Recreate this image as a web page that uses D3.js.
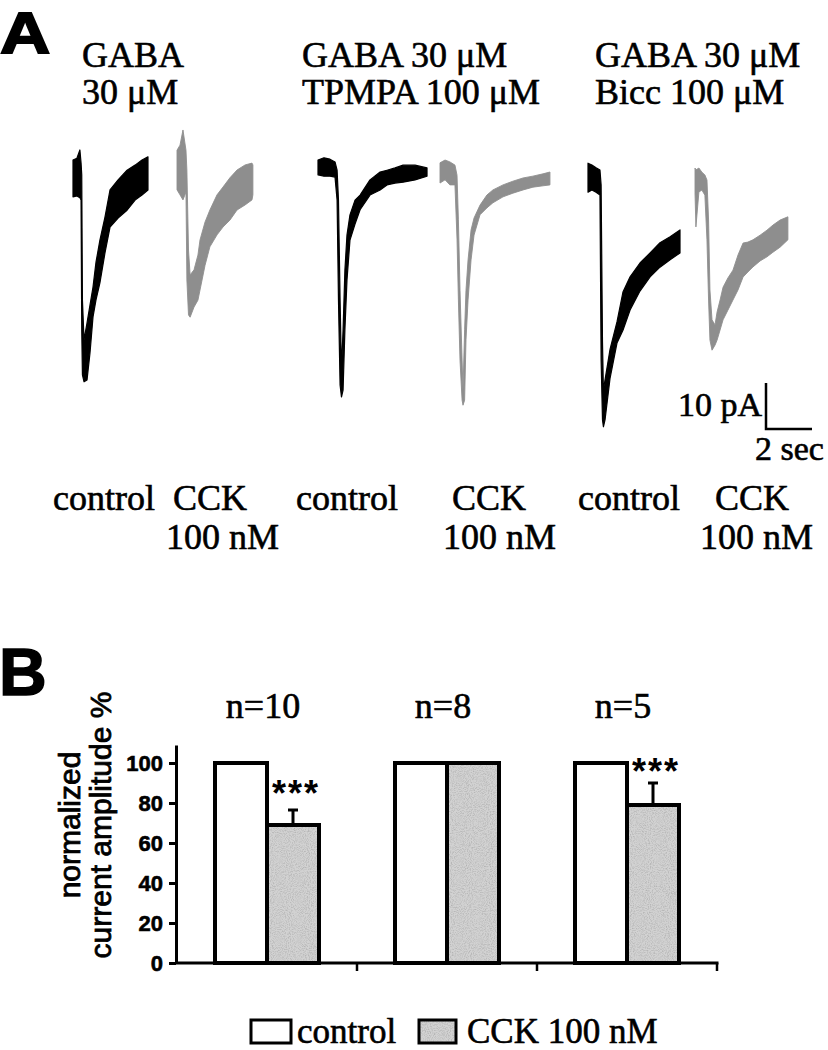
<!DOCTYPE html>
<html><head><meta charset="utf-8">
<script src="https://cdn.jsdelivr.net/npm/d3@7"></script>
<style>html,body{margin:0;padding:0;background:#fff;}svg{display:block;}</style>
</head><body>
<script>
// ---------- DATA ----------
// Panel A traces: [time (s), upper envelope (pA), lower envelope (pA)]
const traceGabaControl = [[0,3.9,-4.1],[0.17,4.3,-3.9],[0.30,6.1,-4.3],[0.35,3.3,-4.8],[0.38,0.7,-33.0],[0.41,-26.5,-42.8],[0.48,-35.2,-44.3],[0.61,-31.5,-43.9],[0.74,-27.6,-38.0],[0.87,-23.7,-30.2],[1.00,-18.3,-26.5],[1.17,-13.5,-22.8],[1.39,-8.5,-16.3],[1.61,-2.6,-10.7],[1.96,-0.4,-8.7],[2.35,1.7,-7.0],[2.70,2.8,-4.8],[3.00,3.9,-3.7],[3.26,4.6,-2.6]];
const traceGabaCCK = [[0,4.3,-4.3],[0.13,5.4,-5.4],[0.26,8.7,-6.5],[0.39,4.3,-4.8],[0.43,0,-23.9],[0.50,-17.4,-31.5],[0.57,-22.8,-32.0],[0.74,-21.7,-29.8],[0.91,-18.5,-28.3],[1.00,-15.2,-26.1],[1.22,-11.3,-20.7],[1.43,-8.7,-16.7],[1.74,-5.4,-14.1],[2.00,-3.7,-12.4],[2.30,-1.7,-10.9],[2.61,0,-8.7],[2.96,1.1,-7.6],[3.26,1.5,-6.5],[3.30,1.1,-5.4]];
const traceTpmpaControl = [[0,1.5,-1.7],[0.26,2.0,-2.0],[0.52,1.7,-2.0],[0.74,1.1,-2.2],[0.83,-0.7,-7.2],[0.89,-7.2,-28.9],[0.96,-28.9,-47.4],[1.02,-44.1,-50.0],[1.09,-35.4,-48.5],[1.17,-22.4,-35.4],[1.26,-14.8,-24.6],[1.39,-10.4,-15.9],[1.61,-7.2,-12.4],[1.83,-6.1,-9.3],[2.26,-2.8,-6.1],[2.70,-1.1,-5.0],[3.00,-0.7,-3.9],[3.35,-0.2,-3.5],[3.70,0.4,-3.3],[4.22,0.4,-2.8],[4.74,-0.2,-2.0]];
const traceTpmpaCCK = [[0,2.0,-2.4],[0.22,2.6,-1.7],[0.43,2.2,-2.8],[0.65,1.5,-2.8],[0.74,-0.7,-14.6],[0.80,-10.4,-27.8],[0.87,-25.7,-40.9],[0.96,-40.9,-49.6],[1.00,-47.4,-50.7],[1.07,-34.3,-49.6],[1.13,-25.7,-36.5],[1.22,-19.1,-27.8],[1.35,-12.6,-19.1],[1.48,-10.0,-13.7],[1.74,-7.2,-9.3],[2.04,-5.0,-7.8],[2.30,-3.9,-6.7],[2.74,-2.8,-5.4],[3.17,-2.0,-4.6],[3.61,-1.3,-3.9],[4.04,-0.9,-3.3],[4.48,-0.4,-3.0],[4.78,0,-2.8]];
const traceBiccControl = [[0,3.0,-3.3],[0.17,2.6,-2.8],[0.35,2.0,-3.3],[0.52,1.5,-3.9],[0.57,-1.7,-39.8],[0.63,-35.9,-52.8],[0.67,-46.3,-54.3],[0.74,-44.1,-52.8],[0.96,-37.4,-43.7],[1.26,-31.5,-36.1],[1.52,-25.0,-33.3],[1.83,-21.7,-28.9],[2.26,-18.7,-24.8],[2.70,-16.5,-21.7],[3.13,-14.3,-19.6],[3.57,-13.0,-18.0],[4.00,-11.5,-16.5]];
const traceBiccCCK = [[0,2.6,-2.8],[0.04,2.2,-10.2],[0.17,2.6,-2.6],[0.30,1.7,-2.2],[0.43,1.1,-3.3],[0.52,0,-13.0],[0.59,-8.7,-26.1],[0.65,-23.9,-34.8],[0.74,-30.4,-37.0],[0.87,-31.5,-35.9],[0.96,-28.7,-34.8],[1.09,-26.1,-32.6],[1.22,-23.3,-30.4],[1.43,-21.3,-28.3],[1.65,-19.6,-26.1],[1.87,-16.3,-23.9],[2.09,-13.7,-21.1],[2.30,-13.5,-20.0],[2.52,-13.0,-18.9],[2.83,-12.0,-17.6],[3.13,-10.9,-16.7],[3.39,-9.8,-15.7],[3.70,-8.7,-14.6],[4.04,-8.0,-13.0]];
const scaleBarPA = 10, scaleBarSec = 2;

const groupTitles = [["GABA","30 μM"],["GABA 30 μM","TPMPA 100 μM"],["GABA 30 μM","Bicc 100 μM"]];
const conditionLabels = ["control","CCK","100 nM"];

// Panel B
const categories = ["GABA 30 μM","GABA + TPMPA","GABA + Bicc"];
const nLabels = ["n=10","n=8","n=5"];
const controlValues = [100,100,100];
const cckValues = [69,100,79];
const cckErrors = [7.5,0,11];
const significance = ["***","","***"];
const yTicks = [0,20,40,60,80,100];
const legendLabels = ["control","CCK 100 nM"];

// ---------- DRAW ----------
const W=828,H=1050;
const svg=d3.select("body").append("svg").attr("width",W).attr("height",H);
svg.append("rect").attr("width",W).attr("height",H).attr("fill","#fff");
const serif="'Liberation Serif','Times New Roman',serif";
const sans="'Liberation Sans',Arial,sans-serif";
const GRAY="#8e8e8e", CCKFILL="#d2d2d2";

const defs=svg.append("defs");
const f=defs.append("filter").attr("id","speckle").attr("x",0).attr("y",0).attr("width",1).attr("height",1);
f.append("feTurbulence").attr("type","fractalNoise").attr("baseFrequency",0.95).attr("numOctaves",2).attr("seed",7).attr("result","n");
f.append("feColorMatrix").attr("in","n").attr("type","matrix")
  .attr("values","0 0 0 0 0.45  0 0 0 0 0.45  0 0 0 0 0.45  0 0 0 2.2 -0.9").attr("result","dots");
f.append("feComposite").attr("in","dots").attr("in2","SourceGraphic").attr("operator","in").attr("result","d2");
const fm=f.append("feMerge"); fm.append("feMergeNode").attr("in","SourceGraphic"); fm.append("feMergeNode").attr("in","d2");

function serifText(x,y,size,t,anchor){
  return svg.append("text").attr("x",x).attr("y",y).attr("text-anchor",anchor||"start").attr("font-family",serif)
    .attr("font-size",size).attr("stroke","#000").attr("stroke-width",0.6).text(t);
}

// Panel letters
svg.append("text").attr("transform","translate(0,53) scale(1.2,1)").attr("font-family",sans).attr("font-weight","bold")
  .attr("font-size",58).attr("stroke","#000").attr("stroke-width",1.8).text("A");
svg.append("text").attr("x",-1).attr("y",695).attr("font-family",sans).attr("font-weight","bold")
  .attr("font-size",66).attr("stroke","#000").attr("stroke-width",1.5).text("B");

// Titles
const titleX=[82,302,595];
groupTitles.forEach((lines,i)=>{
  lines.forEach((t,j)=>{ serifText(titleX[i],67+j*37,36,t); });
});

// Traces
const pxPerSec=23, pxPerPA=4.6;
const traces=[
  {d:traceGabaControl,x0:73,y0:178,c:"#000"},
  {d:traceGabaCCK,x0:177,y0:170,c:GRAY},
  {d:traceTpmpaControl,x0:318,y0:167,c:"#000"},
  {d:traceTpmpaCCK,x0:440,y0:172,c:GRAY},
  {d:traceBiccControl,x0:588,y0:177,c:"#000"},
  {d:traceBiccCCK,x0:695,y0:180,c:GRAY}
];
traces.forEach(tr=>{
  const x=d3.scaleLinear().domain([0,1]).range([tr.x0,tr.x0+pxPerSec]);
  const y=d3.scaleLinear().domain([0,1]).range([tr.y0,tr.y0-pxPerPA]);
  const area=d3.area().x(d=>x(d[0])).y0(d=>y(d[2])).y1(d=>y(d[1]));
  svg.append("path").datum(tr.d).attr("d",area).attr("fill",tr.c).attr("stroke",tr.c)
    .attr("stroke-width",tr.c==="#000"?1.2:0.9).attr("stroke-linejoin","round");
});

// Scale bar
{
  const sx=766, sy=429;
  const x=d3.scaleLinear().domain([0,1]).range([sx,sx+pxPerSec]);
  const y=d3.scaleLinear().domain([0,1]).range([sy,sy-pxPerPA]);
  svg.append("path").attr("d",`M${x(0)},${y(scaleBarPA)}V${y(0)}H${x(scaleBarSec)}`)
    .attr("fill","none").attr("stroke","#000").attr("stroke-width",2.5);
  serifText(762,416,34,scaleBarPA+" pA","end");
  serifText(755,460,34,scaleBarSec+" sec");
}

// Condition labels
const condPos=[[53,173,166],[296,452,443],[578,715,700]];
condPos.forEach(p=>{
  serifText(p[0],510,36,conditionLabels[0]);
  serifText(p[1],510,36,conditionLabels[1]);
  serifText(p[2],549,36,conditionLabels[2]);
});

// Panel B chart
const xB=d3.scaleBand().domain(categories).range([177,717]).padding(0);
const yB=d3.scaleLinear().domain([0,109]).range([963,745]);
const barW=52;

const yAxis=svg.append("g").attr("transform","translate(176,0)")
  .call(d3.axisLeft(yB).tickValues(yTicks).tickSize(7).tickSizeOuter(0).tickPadding(6));
yAxis.select(".domain").attr("stroke","#000").attr("stroke-width",3);
yAxis.selectAll(".tick line").attr("stroke","#000").attr("stroke-width",3);
yAxis.selectAll(".tick text").attr("font-family",sans).attr("font-weight","bold").attr("font-size",22)
  .attr("fill","#000").attr("stroke","#000").attr("stroke-width",0.6).attr("dy","0.36em");

// x axis
const xAxisG=svg.append("g");
xAxisG.append("line").attr("x1",175).attr("x2",xB.range()[1]+1.5).attr("y1",yB(0)).attr("y2",yB(0)).attr("stroke","#000").attr("stroke-width",3);
categories.forEach(c=>{
  const xe=xB(c)+xB.bandwidth();
  xAxisG.append("line").attr("x1",xe).attr("x2",xe).attr("y1",yB(0)).attr("y2",yB(0)+8).attr("stroke","#000").attr("stroke-width",2.5);
});

// bars
categories.forEach((c,i)=>{
  const cx=xB(c)+xB.bandwidth()/2;
  svg.append("rect").attr("x",cx-barW).attr("y",yB(controlValues[i])).attr("width",barW).attr("height",yB(0)-yB(controlValues[i]))
    .attr("fill","#fff").attr("stroke","#000").attr("stroke-width",4);
  if(cckErrors[i]>0){
    svg.append("line").attr("x1",cx+barW/2).attr("x2",cx+barW/2).attr("y1",yB(cckValues[i])).attr("y2",yB(cckValues[i]+cckErrors[i]))
      .attr("stroke","#000").attr("stroke-width",3);
    svg.append("line").attr("x1",cx+barW/2-5).attr("x2",cx+barW/2+5).attr("y1",yB(cckValues[i]+cckErrors[i])).attr("y2",yB(cckValues[i]+cckErrors[i]))
      .attr("stroke","#000").attr("stroke-width",3);
  }
  svg.append("rect").attr("x",cx).attr("y",yB(cckValues[i])).attr("width",barW).attr("height",yB(0)-yB(cckValues[i]))
    .attr("fill",CCKFILL).attr("filter","url(#speckle)");
  svg.append("rect").attr("x",cx).attr("y",yB(cckValues[i])).attr("width",barW).attr("height",yB(0)-yB(cckValues[i]))
    .attr("fill","none").attr("stroke","#000").attr("stroke-width",4);
  serifText(cx-4,718,36,nLabels[i],"middle");
  if(significance[i]){
    svg.append("text").attr("x",cx+barW/2+3).attr("y",i===0?806:784).attr("text-anchor","middle")
      .attr("font-family",sans).attr("font-weight","bold").attr("font-size",36).attr("letter-spacing",2).text(significance[i]);
  }
});

// y label
const yl=svg.append("g").attr("transform","translate(0,825)");
yl.append("text").attr("transform","translate(80,0) rotate(-90)").attr("text-anchor","middle").attr("font-family",sans)
  .attr("font-size",30).attr("stroke","#000").attr("stroke-width",0.8).text("normalized");
yl.append("text").attr("transform","translate(111,0) rotate(-90)").attr("text-anchor","middle").attr("font-family",sans)
  .attr("font-size",30).attr("stroke","#000").attr("stroke-width",0.8).text("current amplitude %");

// legend
svg.append("rect").attr("x",251).attr("y",1020).attr("width",40).attr("height",23).attr("fill","#fff").attr("stroke","#000").attr("stroke-width",3);
serifText(297,1043,35,legendLabels[0]);
svg.append("rect").attr("x",419).attr("y",1020).attr("width",37).attr("height",23).attr("fill",CCKFILL).attr("filter","url(#speckle)");
svg.append("rect").attr("x",419).attr("y",1020).attr("width",37).attr("height",23).attr("fill","none").attr("stroke","#000").attr("stroke-width",3);
serifText(467,1043,35,legendLabels[1]);
</script>
</body></html>
